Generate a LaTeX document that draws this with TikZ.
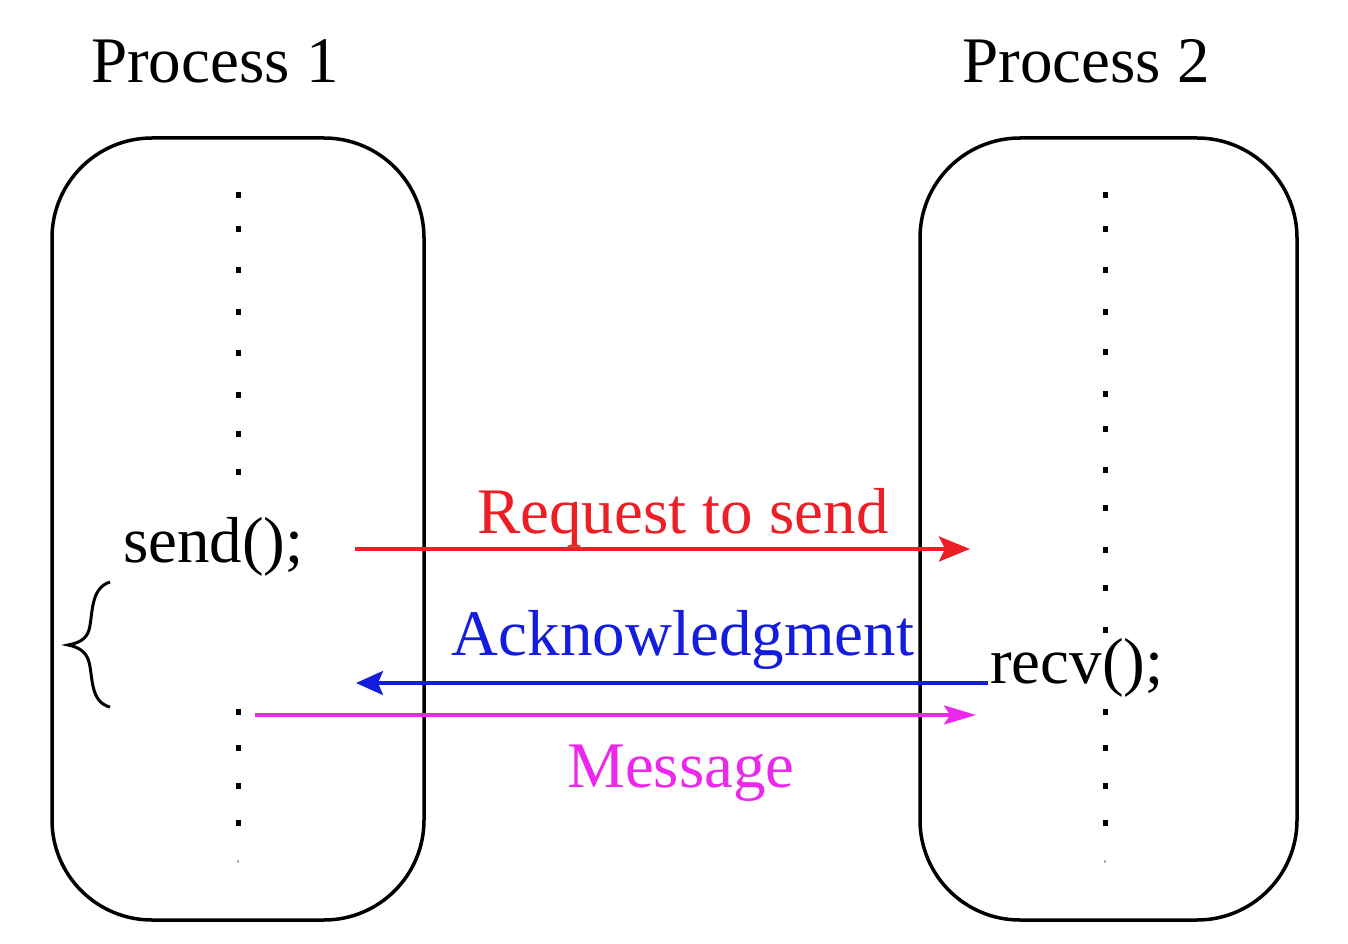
\documentclass[tikz,border=0pt]{standalone}
\usepackage{fontspec}
\setmainfont{Liberation Serif}
\usetikzlibrary{arrows.meta}
\definecolor{reqred}{RGB}{236,30,38}
\definecolor{ackblue}{RGB}{20,28,222}
\definecolor{msgmag}{RGB}{236,40,236}
\tikzset{
  procbox/.style={draw=black, line width=3.5pt, rounded corners=100pt, minimum width=372pt, minimum height=782pt, inner sep=0pt},
  lbl/.style={font=\fontsize{65}{72}\selectfont, inner sep=0pt, anchor=base},
  conn/.style={line width=3.5pt},
  dotmark/.style={line width=5pt, black},
}
\begin{document}
\begin{tikzpicture}[x=1pt,y=-1pt]
\useasboundingbox (0,0) rectangle (1348,944);
% process boxes
\node[procbox] (p1) at (238,529) {};
\node[procbox, minimum width=377pt] (p2) at (1108.5,529) {};
% titles
\node[lbl, anchor=base west] (t1) at (91,83) {Process 1};
\node[lbl, anchor=base west] (t2) at (962,83) {Process 2};
% dotted timelines
\foreach \y in {195,229,270,312,353,395,434,472,712,748,786,823}
  \draw[dotmark] (238,\y-3) -- (238,\y+3);
\foreach \y in {195,229,270,312,352,394,429,470,508,550,588,630,712,748,786,823}
  \draw[dotmark] (1105,\y-3) -- (1105,\y+3);
\draw[line width=1.5pt, black!30] (238,860) -- (238,863);
\draw[line width=1.5pt, black!30] (1105,860) -- (1105,863);
% code labels
\node[lbl, anchor=base west] (send) at (123,562) {send();};
\node[lbl, anchor=base west] (recv) at (990,683) {recv();};
% brace
\draw[line width=3pt] (110,582) .. controls (90,588) and (93,615) .. (89,630)
  .. controls (86,640) and (78,643) .. (68,645)
  .. controls (78,647) and (86,651) .. (89,662)
  .. controls (93,677) and (90,702) .. (110,707);
% connectors
\coordinate (r1) at (355,549);
\coordinate (r2) at (970,549);
\coordinate (a1) at (988,683);
\coordinate (a2) at (356,683);
\coordinate (m1) at (255,715);
\coordinate (m2) at (976,715);
\draw[conn, reqred, -{Stealth[length=31pt,width=25pt,inset=6pt]}] (r1) -- (r2);
\draw[conn, ackblue, -{Stealth[length=27pt,width=24pt,inset=5pt]}] (a1) -- (a2);
\draw[conn, msgmag, -{Stealth[length=32pt,width=19pt,inset=6pt]}] (m1) -- (m2);
% connector labels
\node[lbl, reqred] (lr) at (683,533) {Request to send};
\node[lbl, ackblue] (la) at (683,655) {Acknowledgment};
\node[lbl, msgmag] (lm) at (681,787) {Message};
\end{tikzpicture}
\end{document}
